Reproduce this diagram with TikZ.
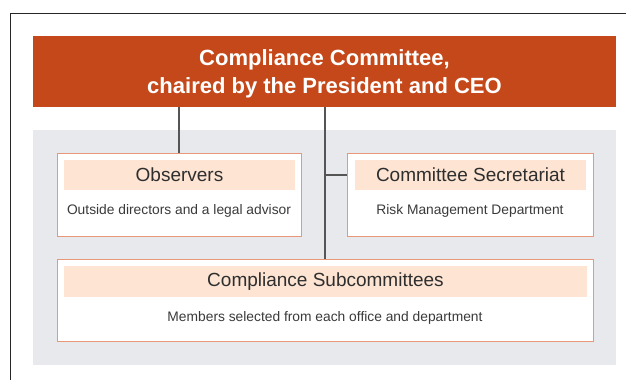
\documentclass[tikz,border=0pt]{standalone}
\usepackage{fontspec}
\setmainfont{Liberation Sans}
\definecolor{hdrorange}{HTML}{C4481A}
\definecolor{boxborder}{HTML}{E9977A}
\definecolor{bandfill}{HTML}{FDE4D3}
\definecolor{panelgrey}{HTML}{E8E9EC}
\definecolor{linegrey}{HTML}{555555}
\definecolor{txtgrey}{HTML}{2E2E2E}
\definecolor{subgrey}{HTML}{3A3A3A}
\begin{document}
\begin{tikzpicture}[x=1pt,y=-1pt,
  hdr/.style={fill=hdrorange,minimum width=583pt,minimum height=71pt,inner sep=0pt},
  hdrtext/.style={text=white,inner sep=0pt,align=center,font=\fontsize{22}{28}\selectfont\bfseries},
  unit/.style={draw=boxborder,line width=1pt,fill=white,inner sep=0pt},
  band/.style={fill=bandfill,inner sep=0pt,text=txtgrey,font=\fontsize{19}{22}\selectfont},
  sub/.style={text=subgrey,inner sep=0pt,font=\fontsize{13.8}{16}\selectfont},
  conn/.style={draw=linegrey,line width=1.2pt}]
\useasboundingbox (0,0) rectangle (626,380);
\draw[line width=0.9pt,draw=black!85] (10,380) -- (10,13) -- (626,13);
\node[fill=panelgrey,minimum width=583pt,minimum height=235pt,inner sep=0pt] (panel) at (324.5,247.5) {};
\node[hdr] (header) at (324.5,71.5) {};
\node[hdrtext] (hdrlabel) at (324.5,73.5) {Compliance Committee,\\chaired by the President and CEO};
% Observers
\node[unit,minimum width=244pt,minimum height=83pt] (obs) at (179,194.5) {};
\node[band,minimum width=231pt,minimum height=30pt] (obsband) at (179.5,175) {Observers};
\node[sub] (obstxt) at (179,211) {Outside directors and a legal advisor};
% Secretariat
\node[unit,minimum width=246pt,minimum height=83pt] (sec) at (470,194.5) {};
\node[band,minimum width=231pt,minimum height=30pt] (secband) at (470.5,175) {Committee Secretariat};
\node[sub] (sectxt) at (470,211) {Risk Management Department};
% Subcommittees
\node[unit,minimum width=536pt,minimum height=82pt] (subc) at (325,300) {};
\node[band,minimum width=523pt,minimum height=31pt] (subband) at (325.5,281.5) {Compliance Subcommittees};
\node[sub] (subtxt) at (325,318) {Members selected from each office and department};
% connectors
\draw[conn] (obs.north |- header.south) -- (obs.north);
\draw[conn] (subc.north |- header.south) -- (subc.north);
\coordinate (branch) at (subc.north |- secband.west);
\draw[conn] (branch) -- (sec.west |- secband.west);
\end{tikzpicture}
\end{document}
